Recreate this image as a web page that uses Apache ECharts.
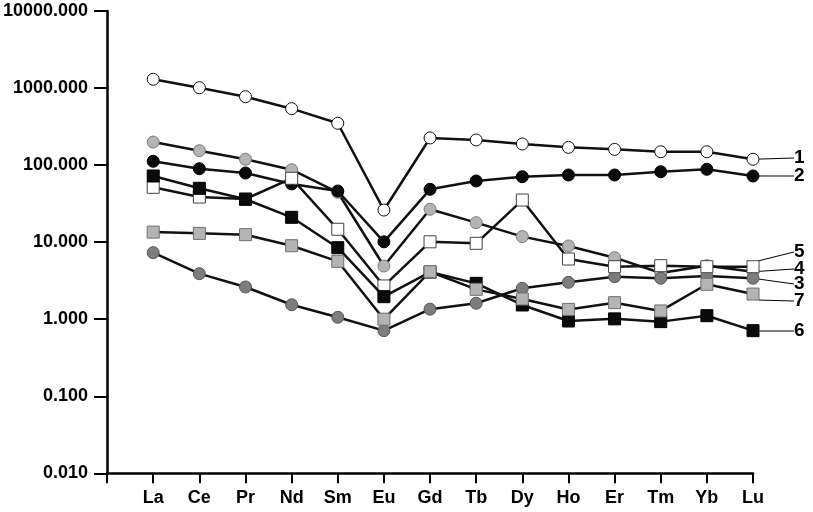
<!DOCTYPE html>
<html><head><meta charset="utf-8">
<script src="https://cdn.jsdelivr.net/npm/echarts@6/dist/echarts.min.js"></script>
<style>html,body{margin:0;padding:0;background:#fff}#c{width:813px;height:512px}</style>
</head><body><div id="c"></div>
<script>
const categories = ['La','Ce','Pr','Nd','Sm','Eu','Gd','Tb','Dy','Ho','Er','Tm','Yb','Lu'];
const yTicks = [0.01, 0.1, 1, 10, 100, 1000, 10000];
const s1 = [1300,1010,772,540,349,26.1,225,212,188,170,160,149,149,119];
const s2 = [112,89.8,78.9,56.9,46.1,10.1,48.5,62.2,70.7,74.4,74.4,82.1,88.2,72.2];
const s3 = [7.30,3.90,2.62,1.54,1.06,0.71,1.35,1.61,2.52,3.01,3.56,3.40,3.64,3.40];
const s4 = [199,154,119,87.2,44.4,4.90,26.7,17.9,11.8,8.91,6.29,3.98,4.95,4.13];
const s5 = [51.5,38.5,36.3,67.4,14.7,2.70,10.1,9.66,35.2,6.04,4.80,4.95,4.80,4.80];
const s6 = [72.2,50.0,36.0,21.0,8.47,1.96,4.09,2.92,1.53,0.948,1.01,0.93,1.11,0.71];
const s7 = [13.5,13.0,12.5,8.99,5.64,1.00,4.13,2.44,1.83,1.34,1.64,1.28,2.84,2.12];
const seriesLabels = ['1','2','3','4','5','6','7'];

const FONT = 'Liberation Sans';
const styles = {
  '1': {symbol:'circle', size:12, fill:'#ffffff', border:'#111', labelY:158},
  '2': {symbol:'circle', size:12, fill:'#0a0a0a', border:'#000', labelY:176},
  '3': {symbol:'circle', size:12, fill:'#7d7d7d', border:'#555', labelY:284},
  '4': {symbol:'circle', size:12, fill:'#b4b4b4', border:'#7a7a7a', labelY:269},
  '5': {symbol:'rect', size:12, fill:'#ffffff', border:'#444', labelY:252},
  '6': {symbol:'rect', size:12, fill:'#0a0a0a', border:'#000', labelY:331},
  '7': {symbol:'rect', size:12, fill:'#b4b4b4', border:'#6f6f6f', labelY:301}
};
const values = {'1':s1,'2':s2,'3':s3,'4':s4,'5':s5,'6':s6,'7':s7};
const drawOrder = ['1','4','2','3','5','6','7'];

function makeSeries(key, z) {
  const st = styles[key];
  const vals = values[key];
  const data = vals.map((v, i) => {
    const item = {value: [i, v]};
    if (i === vals.length - 1) {
      item.label = {show: true, formatter: key};
      item.labelLine = {show: true};
    }
    return item;
  });
  return {
    type: 'line', name: key, z: z,
    data: data,
    symbol: st.symbol, symbolSize: st.size, showAllSymbol: true,
    lineStyle: {color: '#111', width: 2.5},
    itemStyle: {color: st.fill, borderColor: st.border, borderWidth: 1},
    label: {show: false, color: '#000', fontFamily: FONT, fontWeight: 'bold', fontSize: 19},
    labelLine: {show: false, lineStyle: {color: '#000', width: 1}},
    labelLayout: {x: 794, y: st.labelY, align: 'left', verticalAlign: 'middle'},
    emphasis: {disabled: true},
    animation: false
  };
}

const chart = echarts.init(document.getElementById('c'), null, {renderer: 'canvas'});
chart.setOption({
  backgroundColor: '#fff',
  animation: false,
  grid: {left: 106, right: 60, top: 11, bottom: 38.7, containLabel: false},
  xAxis: {
    type: 'value', min: -1, max: categories.length - 1, interval: 1,
    axisLine: {show: true, onZero: false, lineStyle: {color: '#000', width: 2.5}},
    axisTick: {show: true, inside: false, length: 10, lineStyle: {color: '#000', width: 2}},
    axisLabel: {
      show: true, margin: 16, color: '#000', fontFamily: FONT, fontWeight: 'bold', fontSize: 18,
      formatter: v => (v >= 0 && categories[v] !== undefined) ? categories[v] : ''
    },
    splitLine: {show: false}
  },
  yAxis: {
    type: 'log', logBase: 10, min: yTicks[0], max: yTicks[yTicks.length - 1],
    axisLine: {show: true, onZero: false, lineStyle: {color: '#000', width: 2.5}},
    axisTick: {show: true, inside: false, length: 13, lineStyle: {color: '#000', width: 2}},
    axisLabel: {
      show: true, margin: 19, color: '#000', fontFamily: FONT, fontWeight: 'bold', fontSize: 18,
      formatter: v => Number(v).toFixed(3)
    },
    splitLine: {show: false},
    minorTick: {show: false}
  },
  series: drawOrder.map((k, idx) => makeSeries(k, 2 + idx))
});
</script>
</body></html>
